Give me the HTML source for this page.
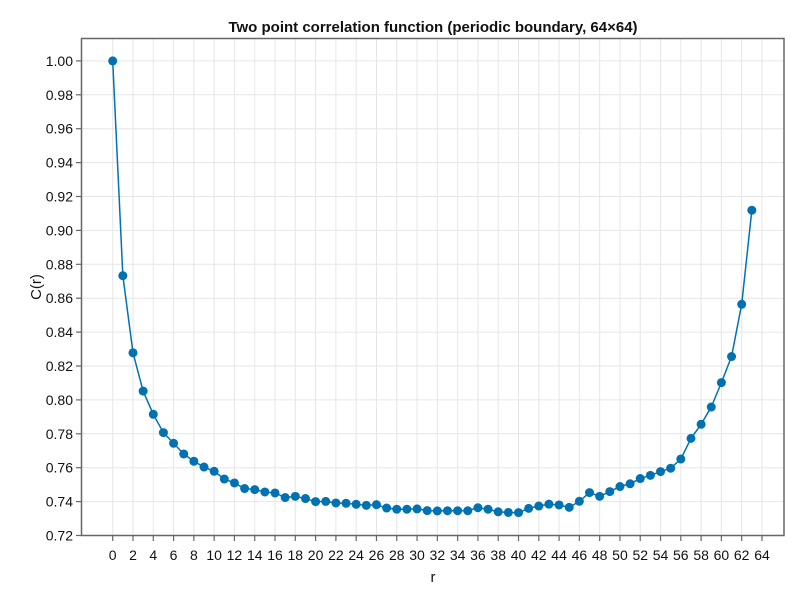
<!DOCTYPE html>
<html><head><meta charset="utf-8"><style>
body{margin:0;background:#fff;font-family:"Liberation Sans",sans-serif}
</style></head><body>
<svg id="chart" width="800" height="600" xmlns="http://www.w3.org/2000/svg" font-family="Liberation Sans, sans-serif">
<rect width="800" height="600" fill="#fff"/>
<g id="grid"></g>
<g id="ticks"></g>
<path id="line" fill="none" stroke="#0072b2" stroke-width="1.5"/>
<g id="pts"></g>
<rect x="81.5" y="38.5" width="702.5" height="497" fill="none" stroke="#666" stroke-width="1.5"/>
<text x="433" y="32" text-anchor="middle" font-size="15" font-weight="bold" fill="#111">Two point correlation function (periodic boundary, 64×64)</text>
<text x="433" y="582" text-anchor="middle" font-size="15" fill="#111">r</text>
<text transform="translate(41,287) rotate(-90)" text-anchor="middle" font-size="15" fill="#111">C(r)</text>
</svg>
<script>
const values=[1.000,0.8733,0.8278,0.8052,0.7915,0.7807,0.7744,0.7681,0.7638,0.7604,0.7579,0.7533,0.7510,0.7477,0.7471,0.7457,0.7451,0.7424,0.7431,0.7418,0.7400,0.7401,0.7392,0.7390,0.7384,0.7378,0.7382,0.7362,0.7355,0.7355,0.7357,0.7347,0.7345,0.7346,0.7346,0.7346,0.7364,0.7355,0.7340,0.7336,0.7335,0.7360,0.7374,0.7385,0.7380,0.7366,0.7402,0.7453,0.7431,0.7459,0.7489,0.7505,0.7536,0.7555,0.7577,0.7597,0.7651,0.7773,0.7856,0.7958,0.8102,0.8256,0.8564,0.9119];
const xTicks=[0,2,4,6,8,10,12,14,16,18,20,22,24,26,28,30,32,34,36,38,40,42,44,46,48,50,52,54,56,58,60,62,64];
const yTicks=[0.72,0.74,0.76,0.78,0.80,0.82,0.84,0.86,0.88,0.90,0.92,0.94,0.96,0.98,1.00];
const X=r=>112.7+r*10.145;
const Y=v=>535.5-(v-0.72)/0.02*33.9;
const NS="http://www.w3.org/2000/svg";
const grid=document.getElementById('grid'),ticks=document.getElementById('ticks'),pts=document.getElementById('pts');
function mk(tag,name,attrs,parent){
 const e=document.createElementNS(NS,tag);
 
 
 for(const k in attrs)e.setAttribute(k,attrs[k]);
 parent.appendChild(e);return e;
}
xTicks.forEach(t=>{
 mk('line','x-gridline',{x1:X(t),x2:X(t),y1:38,y2:536,stroke:'#e6e6e6'},grid);
 mk('line','x-tick-mark',{x1:X(t),x2:X(t),y1:536,y2:541,stroke:'#666','stroke-width':1.2},grid);
 const tx=mk('text','x-tick-label',{x:X(t),y:560,'text-anchor':'middle','font-size':'14',fill:'#111'},ticks);
 tx.textContent=t;
});
yTicks.forEach(t=>{
 mk('line','y-gridline',{x1:82,x2:784,y1:Y(t),y2:Y(t),stroke:'#e6e6e6'},grid);
 mk('line','y-tick-mark',{x1:76,x2:81,y1:Y(t),y2:Y(t),stroke:'#666','stroke-width':1.2},grid);
 const tx=mk('text','y-tick-label',{x:73,y:Y(t)+5,'text-anchor':'end','font-size':'14',fill:'#111'},ticks);
 tx.textContent=t.toFixed(2);
});
document.getElementById('line').setAttribute('d',values.map((v,i)=>(i?'L':'M')+X(i)+','+Y(v)).join(''));
values.forEach((v,i)=>{
 const c=document.createElementNS(NS,'circle');
 
 
 c.setAttribute('cx',X(i));c.setAttribute('cy',Y(v));c.setAttribute('r',4.5);c.setAttribute('fill','#0072b2');
 pts.appendChild(c);
});
</script>
</body></html>
